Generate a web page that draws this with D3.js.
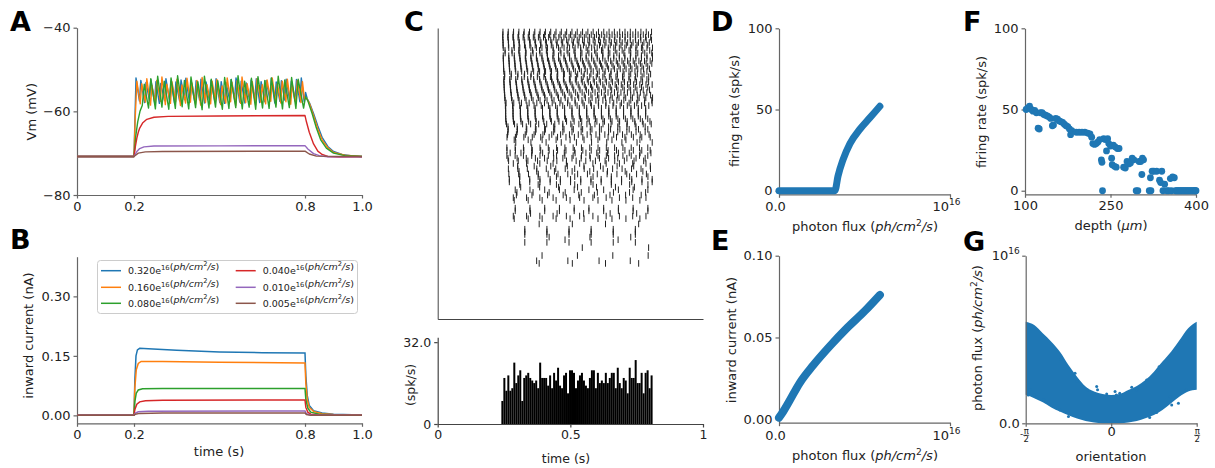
<!DOCTYPE html>
<html>
<head>
<meta charset="utf-8">
<script src="https://cdn.jsdelivr.net/npm/d3@7"></script>
<style>
body { margin: 0; background: #fff; }
svg { font-family: "DejaVu Sans", sans-serif; }
</style>
</head>
<body>
<div id="fig"></div>
<script>
// ---------- data ----------
const colors = ["#1f77b4", "#ff7f0e", "#2ca02c", "#d62728", "#9467bd", "#8c564b"];
const fluxLabels = ["0.320", "0.160", "0.080", "0.040", "0.010", "0.005"];

// A: membrane potential, spiking traces as spike times / peak / trough voltages
const blueSpikeT = [0.207,0.224,0.242,0.259,0.277,0.294,0.312,0.330,0.347,0.365,0.382,0.400,0.418,0.435,0.453,0.470,0.488,0.506,0.523,0.541,0.558,0.576,0.594,0.611,0.629,0.646,0.664,0.682,0.699,0.717,0.734,0.752,0.770,0.787];
const bluePeakV = [-52.0,-52.6,-53.1,-52.4,-52.9,-53.3,-52.2,-52.8,-53.0,-52.5,-52.1,-53.2,-52.7,-52.3,-53.0,-52.6,-52.2,-52.9,-53.1,-52.4,-52.0,-52.8,-53.2,-52.5,-52.2,-52.9,-52.6,-52.1,-53.0,-52.7,-52.3,-52.8,-52.4,-52.0];
const blueTroughV = [-57.5,-57.9,-57.3,-57.8,-58.1,-57.4,-57.7,-58.0,-57.5,-57.2,-57.9,-57.6,-57.3,-58.0,-57.7,-57.4,-57.9,-58.1,-57.5,-57.2,-57.8,-58.0,-57.6,-57.3,-57.9,-57.7,-57.4,-58.0,-57.6,-57.3,-57.8,-57.5,-57.7];
const blueOnset = [[0,-70.8],[0.2,-70.8]];
const blueTail = [[0.797,-57.6],[0.802,-55.5],[0.808,-57.0],[0.816,-58.0],[0.83,-60.5],[0.845,-63.5],[0.86,-66.2],[0.88,-68.4],[0.9,-69.6],[0.93,-70.3],[0.96,-70.6],[1.0,-70.8]];

const orangeSpikeT = [0.210,0.227,0.245,0.263,0.280,0.298,0.315,0.333,0.351,0.368,0.386,0.403,0.421,0.439,0.456,0.474,0.491,0.509,0.527,0.544,0.562,0.579,0.597,0.615,0.632,0.650,0.667,0.685,0.703,0.720,0.738,0.755,0.773,0.791];
const orangePeakV = [-52.8,-53.4,-52.2,-53.8,-52.6,-51.8,-53.5,-52.9,-52.3,-53.7,-52.1,-53.2,-52.6,-51.9,-53.6,-52.8,-52.4,-53.9,-52.0,-53.1,-52.7,-51.8,-53.4,-52.9,-52.2,-53.6,-52.5,-52.0,-53.3,-52.8,-52.3,-53.5,-52.6,-52.9];
const orangeTroughV = [-58.2,-57.8,-58.5,-58.0,-57.6,-58.4,-58.1,-57.7,-58.6,-58.0,-57.8,-58.3,-58.5,-57.9,-58.2,-57.6,-58.4,-58.0,-57.7,-58.6,-58.1,-57.9,-58.3,-58.5,-57.8,-58.2,-57.6,-58.4,-58.0,-57.7,-58.3,-58.1,-57.9];
const orangeOnset = [[0,-70.8],[0.2,-70.8],[0.204,-62.0]];
const orangeTail = [[0.798,-57.0],[0.805,-56.8],[0.815,-58.0],[0.83,-61.0],[0.845,-64.2],[0.86,-66.8],[0.88,-68.7],[0.9,-69.8],[0.94,-70.5],[1.0,-70.8]];

const greenSpikeT = [0.236,0.259,0.283,0.306,0.330,0.353,0.377,0.400,0.424,0.447,0.471,0.494,0.518,0.541,0.565,0.588,0.612,0.635,0.659,0.682,0.706,0.729,0.753,0.776];
const greenPeakV = [-53.5,-52.2,-51.6,-52.8,-52.0,-51.5,-52.6,-51.8,-52.9,-51.6,-52.3,-52.7,-51.9,-52.4,-51.5,-52.8,-52.1,-51.7,-52.6,-52.0,-51.6,-52.5,-51.9,-52.3];
const greenTroughV = [-59.2,-59.4,-59.0,-59.5,-59.3,-58.9,-59.4,-59.1,-59.6,-59.2,-59.0,-59.5,-59.3,-59.1,-59.4,-59.0,-59.5,-59.2,-59.3,-59.0,-59.4,-59.1,-59.3];
const greenOnset = [[0,-70.8],[0.2,-70.8],[0.206,-66.0],[0.213,-62.5],[0.221,-60.0],[0.229,-58.6]];
const greenTail = [[0.795,-59.2],[0.802,-56.5],[0.81,-57.5],[0.825,-60.5],[0.84,-64.0],[0.855,-66.8],[0.875,-68.8],[0.9,-70.0],[0.94,-70.6],[1.0,-70.8]];

const redVm = [[0,-70.8],[0.2,-70.8],[0.205,-68.3],[0.21,-66.4],[0.215,-65.0],[0.22,-64.0],[0.23,-62.8],[0.245,-61.9],[0.27,-61.4],[0.32,-61.2],[0.5,-61.1],[0.8,-61.0],[0.805,-62.5],[0.815,-65.0],[0.83,-67.8],[0.845,-69.5],[0.86,-70.3],[0.88,-70.8],[0.92,-70.9],[1.0,-70.85]];
const purpleVm = [[0,-70.8],[0.2,-70.8],[0.21,-69.6],[0.22,-68.9],[0.235,-68.5],[0.27,-68.3],[0.5,-68.25],[0.8,-68.2],[0.81,-69.0],[0.83,-70.1],[0.85,-70.6],[0.88,-70.85],[1.0,-70.85]];
const brownVm = [[0,-70.8],[0.2,-70.8],[0.215,-70.0],[0.24,-69.7],[0.3,-69.6],[0.8,-69.5],[0.815,-70.2],[0.84,-70.7],[1.0,-70.8]];

// B: inward current (nA)
const currentTraces = [
  [[0,0],[0.2,0],[0.203,0.09],[0.207,0.15],[0.212,0.165],[0.22,0.169],[0.25,0.168],[0.35,0.164],[0.5,0.160],[0.65,0.158],[0.8,0.157],[0.803,0.10],[0.808,0.05],[0.815,0.025],[0.83,0.012],[0.86,0.006],[0.9,0.003],[1.0,0.001]],
  [[0,0],[0.2,0],[0.203,0.07],[0.208,0.115],[0.215,0.131],[0.225,0.136],[0.3,0.136],[0.5,0.134],[0.8,0.132],[0.803,0.08],[0.808,0.04],[0.815,0.02],[0.83,0.01],[0.86,0.004],[0.9,0.002],[1.0,0.001]],
  [[0,0],[0.2,0],[0.203,0.035],[0.208,0.056],[0.215,0.064],[0.23,0.067],[0.3,0.068],[0.8,0.068],[0.803,0.04],[0.81,0.018],[0.82,0.008],[0.85,0.003],[0.9,0.001],[1.0,0]],
  [[0,0],[0.2,0],[0.203,0.015],[0.21,0.028],[0.22,0.034],[0.24,0.037],[0.3,0.038],[0.8,0.039],[0.803,0.02],[0.81,0.008],[0.82,0.003],[0.85,0.001],[1.0,0]],
  [[0,0],[0.2,0],[0.205,0.006],[0.215,0.009],[0.25,0.0105],[0.8,0.011],[0.805,0.004],[0.82,0.001],[1.0,0]],
  [[0,0],[0.2,0],[0.205,0.003],[0.22,0.005],[0.3,0.006],[0.8,0.006],[0.805,0.002],[0.82,0],[1.0,0]]
];

// F: firing rate vs depth (one entry per neuron, sorted by depth -> raster rows in C)
const fDepth = [102,105,108,111,114,117,120,123,125,127,130,133,136,139,142,145,148,150,154,157,160,163,166,169,172,175,178,180,182,190,195,200,205,210,214,217,219,222,225,228,231,234,235,236,238,241,243,245,247,250,252,253,255,257,258,260,262,265,273,276,279,282,285,288,291,295,298,300,303,305,306,308,318,320,321,323,326,331,336,338,340,342,345,349,352,355,357,359,362,364,366,368,370,372,374,376,378,380,382,384,386,388,390,392,394,396,398,399,400];
const fRate = [50,51,52,50,49,49.5,48,38.5,38,48,48,47,46.5,46,45.5,44.5,40,40.5,44.5,44,43,42.5,42,41,40,39.5,38,34.5,37,36,36,36,36,35.5,35,33,29,28.5,29,30,31.5,19,17.5,0,32,31.5,24.5,32,29,27.5,20,16,28,15,27,14.5,26,26,14.5,14,18,16.5,17,20,19,0,0,18,18,10,20,19,0,8,0,12,12,12,6.5,5,12,0,4,0,0,7.5,0,8.5,8,0,0,0,0,0,0,0,0,0,0,0,0,0,0,0,0,0,0,0,0];

// D: firing rate vs photon flux (1e16 ph/cm2/s)
const dFlux = [0,0.05,0.1,0.15,0.2,0.25,0.3,0.327,0.345,0.374,0.415,0.474,0.532,0.59];
const dRate = [0,0,0,0,0,0,0,0,9,19,29,38,45,52];

// E: inward current vs photon flux
const eFlux = [0,0.02,0.06,0.12,0.2,0.3,0.4,0.5,0.59];
const eCurrent = [0.001,0.004,0.011,0.022,0.033,0.045,0.056,0.066,0.076];

// G: photon flux vs orientation, dense cloud envelope + scattered points
const gOrient = [-1.571,-1.414,-1.257,-1.100,-0.942,-0.785,-0.628,-0.471,-0.314,-0.157,0,0.157,0.314,0.471,0.628,0.785,0.942,1.100,1.257,1.414,1.571];
const gUpper = [0.606,0.586,0.537,0.487,0.427,0.348,0.278,0.219,0.189,0.175,0.169,0.175,0.199,0.223,0.258,0.308,0.368,0.427,0.497,0.567,0.606];
const gLower = [0.17,0.15,0.125,0.095,0.07,0.048,0.028,0.014,0.005,0,0,0,0.005,0.014,0.03,0.05,0.08,0.12,0.16,0.19,0.2];
const gDotX = [-0.922,-0.664,-0.628,-0.267,-0.251,-0.083,0.071,0.094,0.377,0.652,0.880,0.864,1.235,1.111,1.084,0.833,-0.942,-1.155,-1.241,-1.367,-1.524,-1.492,-1.414,1.492,1.382,-0.440,0.471,0.157,-0.785,0.707];
const gDotY = [0.384,0.298,0.249,0.219,0.2,0.175,0.189,0.169,0.215,0.258,0.338,0.318,0.119,0.109,0.159,0.064,0.08,0.129,0.139,0.159,0.169,0.2,0.17,0.215,0.2,0.2,0.2,0.18,0.04,0.035];

// ---------- figure ----------
const svg = d3.select("#fig").append("svg").attr("width", 1215).attr("height", 468);
const spineColor = "#666";

function style(g, size) {
  g.attr("font-family", "DejaVu Sans").attr("font-size", size || 13);
  g.select(".domain").attr("stroke", spineColor).attr("stroke-width", 1.2);
  g.selectAll(".tick line").attr("stroke", spineColor).attr("stroke-width", 1.2);
  g.selectAll(".tick text").attr("fill", "#222");
  return g;
}
function panelLabel(t, x, y) {
  svg.append("text").attr("x", x).attr("y", y).attr("font-size", 27).attr("font-weight", "bold").text(t);
}
function yLabel(x, y, build) {
  const t = svg.append("text").attr("transform", `translate(${x},${y}) rotate(-90)`)
    .attr("text-anchor", "middle").attr("font-size", 13).attr("fill", "#222");
  build(t);
}
function xLabel(x, y, build) {
  const t = svg.append("text").attr("x", x).attr("y", y).attr("text-anchor", "middle")
    .attr("font-size", 13).attr("fill", "#222");
  build(t);
}
function fluxUnit(t, sup) {
  t.append("tspan").text("(");
  t.append("tspan").attr("font-style", "italic").text("ph/cm");
  t.append("tspan").attr("dy", -sup).attr("font-size", "0.7em").text("2");
  t.append("tspan").attr("dy", sup).attr("font-style", "italic").text("/s");
  t.append("tspan").text(")");
}
const tickFmt = d => d === 0 ? "0" : d3.format(".1f")(d);

// ----- A -----
const xA = d3.scaleLinear().domain([0, 1]).range([77, 362]);
const yA = d3.scaleLinear().domain([-80, -40]).range([195, 27.7]);
style(svg.append("g").attr("transform", "translate(0,195)")
  .call(d3.axisBottom(xA).tickValues([0, 0.2, 0.8, 1]).tickFormat(tickFmt).tickSize(3.5).tickSizeOuter(0)));
style(svg.append("g").attr("transform", "translate(77,0)")
  .call(d3.axisLeft(yA).tickValues([-80, -60, -40]).tickFormat(d => "\u2212" + Math.abs(d)).tickSize(3.5).tickSizeOuter(0)));

function spikeTrace(onset, times, peaks, troughs, rise, tail) {
  const pts = onset.slice();
  times.forEach((t, i) => {
    if (i > 0) pts.push([t - rise, troughs[i - 1]]);
    pts.push([t, peaks[i]]);
  });
  return pts.concat(tail);
}
const lineA = d3.line().x(d => xA(d[0])).y(d => yA(d[1]));
const vmTraces = [
  spikeTrace(blueOnset, blueSpikeT, bluePeakV, blueTroughV, 0.005, blueTail),
  spikeTrace(orangeOnset, orangeSpikeT, orangePeakV, orangeTroughV, 0.005, orangeTail),
  spikeTrace(greenOnset, greenSpikeT, greenPeakV, greenTroughV, 0.008, greenTail),
  redVm, purpleVm, brownVm
];
vmTraces.forEach((tr, i) => {
  svg.append("path").attr("d", lineA(tr)).attr("fill", "none")
    .attr("stroke", colors[i]).attr("stroke-width", 1.4).attr("stroke-linejoin", "round");
});
yLabel(36, 111.7, t => t.text("Vm (mV)"));
panelLabel("A", 10, 31);

// ----- B -----
const yB = d3.scaleLinear().domain([-0.02, 0.40]).range([423.3, 256.7]);
style(svg.append("g").attr("transform", "translate(0,423.3)")
  .call(d3.axisBottom(xA).tickValues([0, 0.2, 0.8, 1]).tickFormat(tickFmt).tickSize(3.5).tickSizeOuter(0)));
style(svg.append("g").attr("transform", "translate(77,0)")
  .call(d3.axisLeft(yB).tickValues([0, 0.15, 0.30]).tickFormat(d3.format(".2f")).tickSize(3.5).tickSizeOuter(0)));
const lineB = d3.line().x(d => xA(d[0])).y(d => yB(d[1]));
currentTraces.forEach((tr, i) => {
  svg.append("path").attr("d", lineB(tr)).attr("fill", "none")
    .attr("stroke", colors[i]).attr("stroke-width", 1.5);
});
svg.append("rect").attr("x", 97.5).attr("y", 260.5).attr("width", 260).attr("height", 53).attr("rx", 3)
  .attr("fill", "white").attr("fill-opacity", 0.8).attr("stroke", "#ccc");
fluxLabels.forEach((lab, i) => {
  const col = Math.floor(i / 3), row = i % 3;
  const lx = col === 0 ? 101 : 235.7, ly = [270.7, 287.3, 303.3][row];
  svg.append("line").attr("x1", lx).attr("x2", lx + 20).attr("y1", ly).attr("y2", ly)
    .attr("stroke", colors[i]).attr("stroke-width", 1.5);
  const t = svg.append("text").attr("x", lx + 27).attr("y", ly + 3.3).attr("font-size", 9.5).attr("fill", "#222");
  t.append("tspan").text(lab + "e");
  t.append("tspan").attr("dy", -3.8).attr("font-size", 6.8).text("16");
  t.append("tspan").attr("dy", 3.8).text("");
  fluxUnit(t, 3.8);
});
yLabel(33, 335.5, t => t.text("inward current (nA)"));
xLabel(219, 456, t => t.text("time (s)"));
panelLabel("B", 10, 249);

// ----- C: raster + PSTH -----
const xC = d3.scaleLinear().domain([0, 1]).range([437.7, 703]);
const yRow = d3.scaleLinear().domain([0, fDepth.length - 1]).range([32, 316]);
svg.append("g").attr("transform", "translate(0,319)")
  .call(d3.axisBottom(xC).tickValues([]).tickSizeOuter(0))
  .call(g => g.select(".domain").attr("stroke", "#444"));
svg.append("g").attr("transform", "translate(437.7,0)")
  .call(d3.axisLeft(d3.scaleLinear().range([319, 28])).tickValues([]).tickSizeOuter(0))
  .call(g => g.select(".domain").attr("stroke", "#444"));

// regular spike trains rebuilt from each neuron's rate in F (latency shrinks with rate)
const allSpikes = [];
const raster = svg.append("g");
fRate.forEach((r, i) => {
  if (r <= 0) return;
  const isi = 1 / r;
  for (let t = 0.22 + 1.3 / r; t <= 0.81; t += isi) {
    allSpikes.push(t);
    raster.append("line").attr("x1", xC(t)).attr("x2", xC(t))
      .attr("y1", yRow(i) - 3.3).attr("y2", yRow(i) + 3.3)
      .attr("stroke", "#222").attr("stroke-width", 1);
  }
});

const yH = d3.scaleLinear().domain([0, 33.9]).range([424, 337.3]);
const bins = d3.bin().domain([0, 1]).thresholds(d3.range(0, 1, 0.0075))(allSpikes);
svg.append("g").selectAll("rect").data(bins).join("rect")
  .attr("x", d => xC(d.x0)).attr("width", d => Math.max(0, xC(d.x1) - xC(d.x0)))
  .attr("y", d => yH(d.length)).attr("height", d => yH(0) - yH(d.length)).attr("fill", "#000");
svg.append("g").attr("transform", "translate(0,424)")
  .call(d3.axisBottom(xC).tickValues([0, 0.5, 1]).tickFormat(d => d === 0.5 ? "0.5" : d).tickSize(3.5).tickSizeOuter(0))
  .call(g => style(g, 12.5)).call(g => g.selectAll(".domain,.tick line").attr("stroke", "#444"));
svg.append("g").attr("transform", "translate(437.7,0)")
  .call(d3.axisLeft(yH).tickValues([0, 32]).tickFormat(d => d === 0 ? "0" : "32.0").tickSize(3.5).tickSizeOuter(0))
  .call(g => style(g, 12.5)).call(g => g.selectAll(".domain,.tick line").attr("stroke", "#444"));
yLabel(415, 385, t => t.attr("font-size", 12.5).text("(spk/s)"));
xLabel(566, 463, t => t.attr("font-size", 12.5).text("time (s)"));
panelLabel("C", 404, 31);

// ----- D & E -----
const xD = d3.scaleLinear().domain([0, 1]).range([779, 950]);
function fluxAxis(y) {
  const g = style(svg.append("g").attr("transform", `translate(0,${y})`)
    .call(d3.axisBottom(xD).tickValues([0, 1]).tickFormat("").tickSize(3.5).tickSizeOuter(0)));
  g.selectAll(".tick").each(function(d) {
    const t = d3.select(this).append("text").attr("fill", "#222").attr("y", 17);
    if (d === 0) t.attr("x", -4).text("0.0");
    else {
      t.attr("text-anchor", "middle").attr("x", -4);
      t.append("tspan").text("10");
      t.append("tspan").attr("dy", -6).attr("font-size", 9).text("16");
    }
  });
}
const yD = d3.scaleLinear().domain([-2.2, 100]).range([194.3, 28.3]);
fluxAxis(194.3);
style(svg.append("g").attr("transform", "translate(779,0)")
  .call(d3.axisLeft(yD).tickValues([0, 50, 100]).tickSize(3.5).tickSizeOuter(0)));
svg.append("path").attr("d", d3.line().curve(d3.curveMonotoneX).x((d, i) => xD(dFlux[i])).y(d => yD(d))(dRate))
  .attr("fill", "none").attr("stroke", colors[0]).attr("stroke-width", 7).attr("stroke-linecap", "round").attr("stroke-linejoin", "round");
yLabel(739, 111, t => t.text("firing rate (spk/s)"));
xLabel(865, 231, t => { t.append("tspan").text("photon flux "); fluxUnit(t, 5); });
panelLabel("D", 711, 31);

const yE = d3.scaleLinear().domain([-0.0021, 0.1]).range([422.7, 255.7]);
fluxAxis(422.7);
style(svg.append("g").attr("transform", "translate(779,0)")
  .call(d3.axisLeft(yE).tickValues([0, 0.05, 0.1]).tickFormat(d3.format(".2f")).tickSize(3.5).tickSizeOuter(0)));
svg.append("path").attr("d", d3.line().curve(d3.curveMonotoneX).x((d, i) => xD(eFlux[i])).y(d => yE(d))(eCurrent))
  .attr("fill", "none").attr("stroke", colors[0]).attr("stroke-width", 8).attr("stroke-linecap", "round");
yLabel(736, 340, t => t.text("inward current (nA)"));
xLabel(865, 460, t => { t.append("tspan").text("photon flux "); fluxUnit(t, 5); });
panelLabel("E", 711, 250);

// ----- F -----
const xF = d3.scaleLinear().domain([100, 400]).range([1025, 1196]);
style(svg.append("g").attr("transform", "translate(0,194.3)")
  .call(d3.axisBottom(xF).tickValues([100, 250, 400]).tickSize(3.5).tickSizeOuter(0)));
style(svg.append("g").attr("transform", "translate(1025,0)")
  .call(d3.axisLeft(yD.copy()).tickValues([0, 50, 100]).tickSize(3.5).tickSizeOuter(0)));
svg.append("g").selectAll("circle").data(fDepth).join("circle")
  .attr("cx", d => xF(d)).attr("cy", (d, i) => yD(fRate[i])).attr("r", 3.4).attr("fill", colors[0]);
yLabel(986, 112, t => t.text("firing rate (spk/s)"));
xLabel(1111, 230, t => {
  t.append("tspan").text("depth (");
  t.append("tspan").attr("font-style", "italic").text("\u03bcm");
  t.append("tspan").text(")");
});
panelLabel("F", 963, 31);

// ----- G -----
const xG = d3.scaleLinear().domain([-Math.PI / 2, Math.PI / 2]).range([1025.7, 1196.7]);
const yG = d3.scaleLinear().domain([0, 1]).range([423.3, 255.7]);
svg.append("path")
  .attr("d", d3.area().curve(d3.curveMonotoneX).x((d, i) => xG(gOrient[i])).y0((d, i) => yG(gLower[i])).y1(d => yG(d))(gUpper))
  .attr("fill", colors[0]);
svg.append("g").selectAll("circle").data(gDotX).join("circle")
  .attr("cx", d => xG(d)).attr("cy", (d, i) => yG(gDotY[i])).attr("r", 1.5).attr("fill", colors[0]);
const gx = style(svg.append("g").attr("transform", "translate(0,423.3)")
  .call(d3.axisBottom(xG).tickValues([-Math.PI / 2, 0, Math.PI / 2]).tickFormat("").tickSize(3.5).tickSizeOuter(0)));
gx.selectAll(".tick").each(function(d) {
  const g = d3.select(this);
  if (d === 0) {
    g.append("text").attr("fill", "#222").attr("text-anchor", "middle").attr("y", 13).attr("font-size", 13).text("0");
    return;
  }
  g.append("text").attr("fill", "#222").attr("text-anchor", "middle").attr("y", 10.5).attr("font-size", 8.5).text("\u03c0");
  g.append("line").attr("x1", -3).attr("x2", 3).attr("y1", 12).attr("y2", 12).attr("stroke", "#222").attr("stroke-width", 0.7);
  g.append("text").attr("fill", "#222").attr("text-anchor", "middle").attr("y", 19).attr("font-size", 8.5).text("2");
  if (d < 0) g.append("text").attr("fill", "#222").attr("text-anchor", "end").attr("x", -3).attr("y", 14).attr("font-size", 9).text("-");
});
const gy = style(svg.append("g").attr("transform", "translate(1025.7,0)")
  .call(d3.axisLeft(yG).tickValues([0, 1]).tickFormat("").tickSize(3.5).tickSizeOuter(0)));
gy.selectAll(".tick").each(function(d) {
  const t = d3.select(this).append("text").attr("fill", "#222").attr("text-anchor", "end").attr("x", -6).attr("dy", "0.32em");
  if (d === 0) t.text("0.0");
  else { t.append("tspan").text("10"); t.append("tspan").attr("dy", -6).attr("font-size", 9).text("16"); }
});
yLabel(982, 338, t => { t.append("tspan").text("photon flux "); fluxUnit(t, 5); });
xLabel(1111, 461, t => t.text("orientation"));
panelLabel("G", 963, 251);
</script>
</body>
</html>
